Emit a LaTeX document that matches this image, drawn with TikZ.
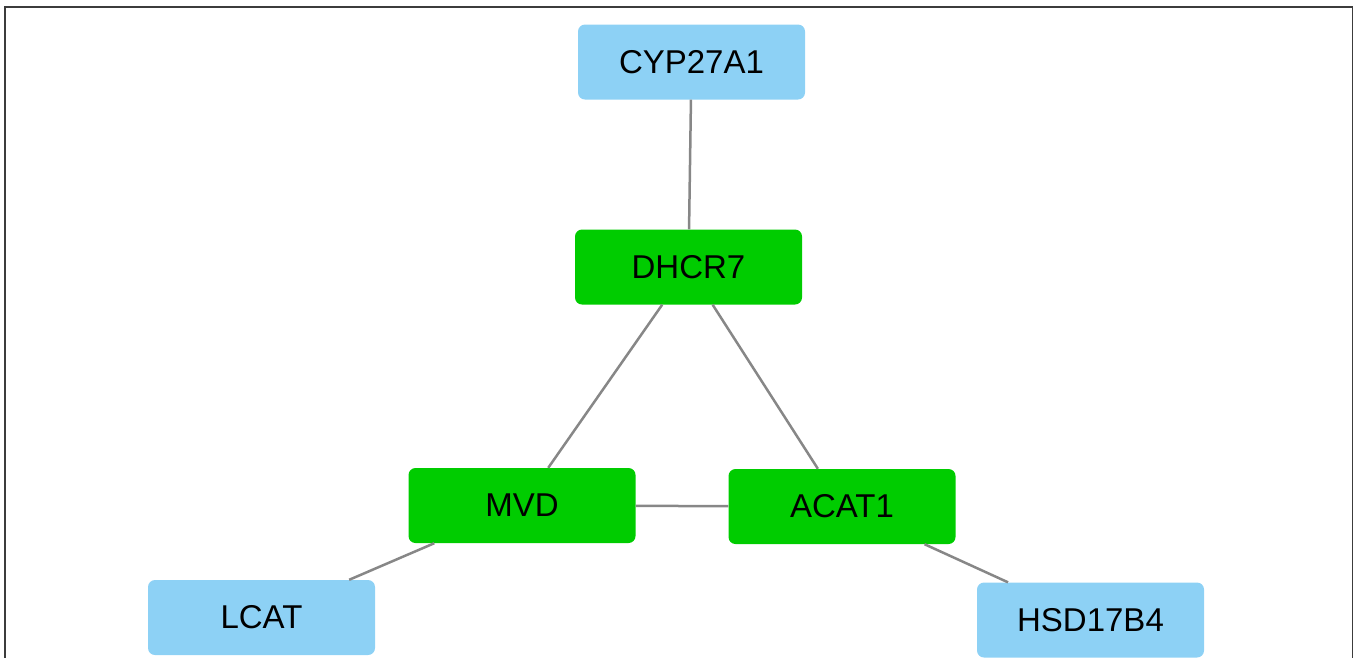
\documentclass[tikz,border=0pt]{standalone}
\usepackage{fontspec}
\setmainfont{Liberation Sans}
\definecolor{lblue}{HTML}{8DD1F5}
\definecolor{ngreen}{HTML}{00CC00}
\definecolor{edgegray}{HTML}{878787}
\definecolor{framegray}{HTML}{3C3C3C}
\begin{document}
\begin{tikzpicture}[x=1pt,y=-1pt,
  gene/.style={rectangle, rounded corners=7pt, minimum width=227pt, minimum height=75pt, inner sep=0pt, font=\fontsize{33}{38}\selectfont},
  outer/.style={gene, fill=lblue},
  core/.style={gene, fill=ngreen},
  link/.style={draw=edgegray, line width=2.5pt}]
\useasboundingbox (0,0) rectangle (1360,657);
\draw[framegray, line width=1.5pt] (5,680) -- (5,7) -- (1352.5,7) -- (1352.5,680);
\node[outer] (cyp) at (691.5,62) {CYP27A1};
\node[core] (dhcr) at (688.5,267) {DHCR7};
\node[core] (mvd) at (522,505.5) {MVD};
\node[core] (acat) at (842,506.5) {ACAT1};
\node[outer] (lcat) at (261.5,617.5) {LCAT};
\node[outer] (hsd) at (1090.5,620) {HSD17B4};
\draw[link] (cyp) -- (dhcr);
\draw[link] (dhcr) -- (mvd);
\draw[link] (dhcr) -- (acat);
\draw[link] (mvd) -- (acat);
\draw[link] (mvd) -- (lcat);
\draw[link] (acat) -- (hsd);
\end{tikzpicture}
\end{document}
